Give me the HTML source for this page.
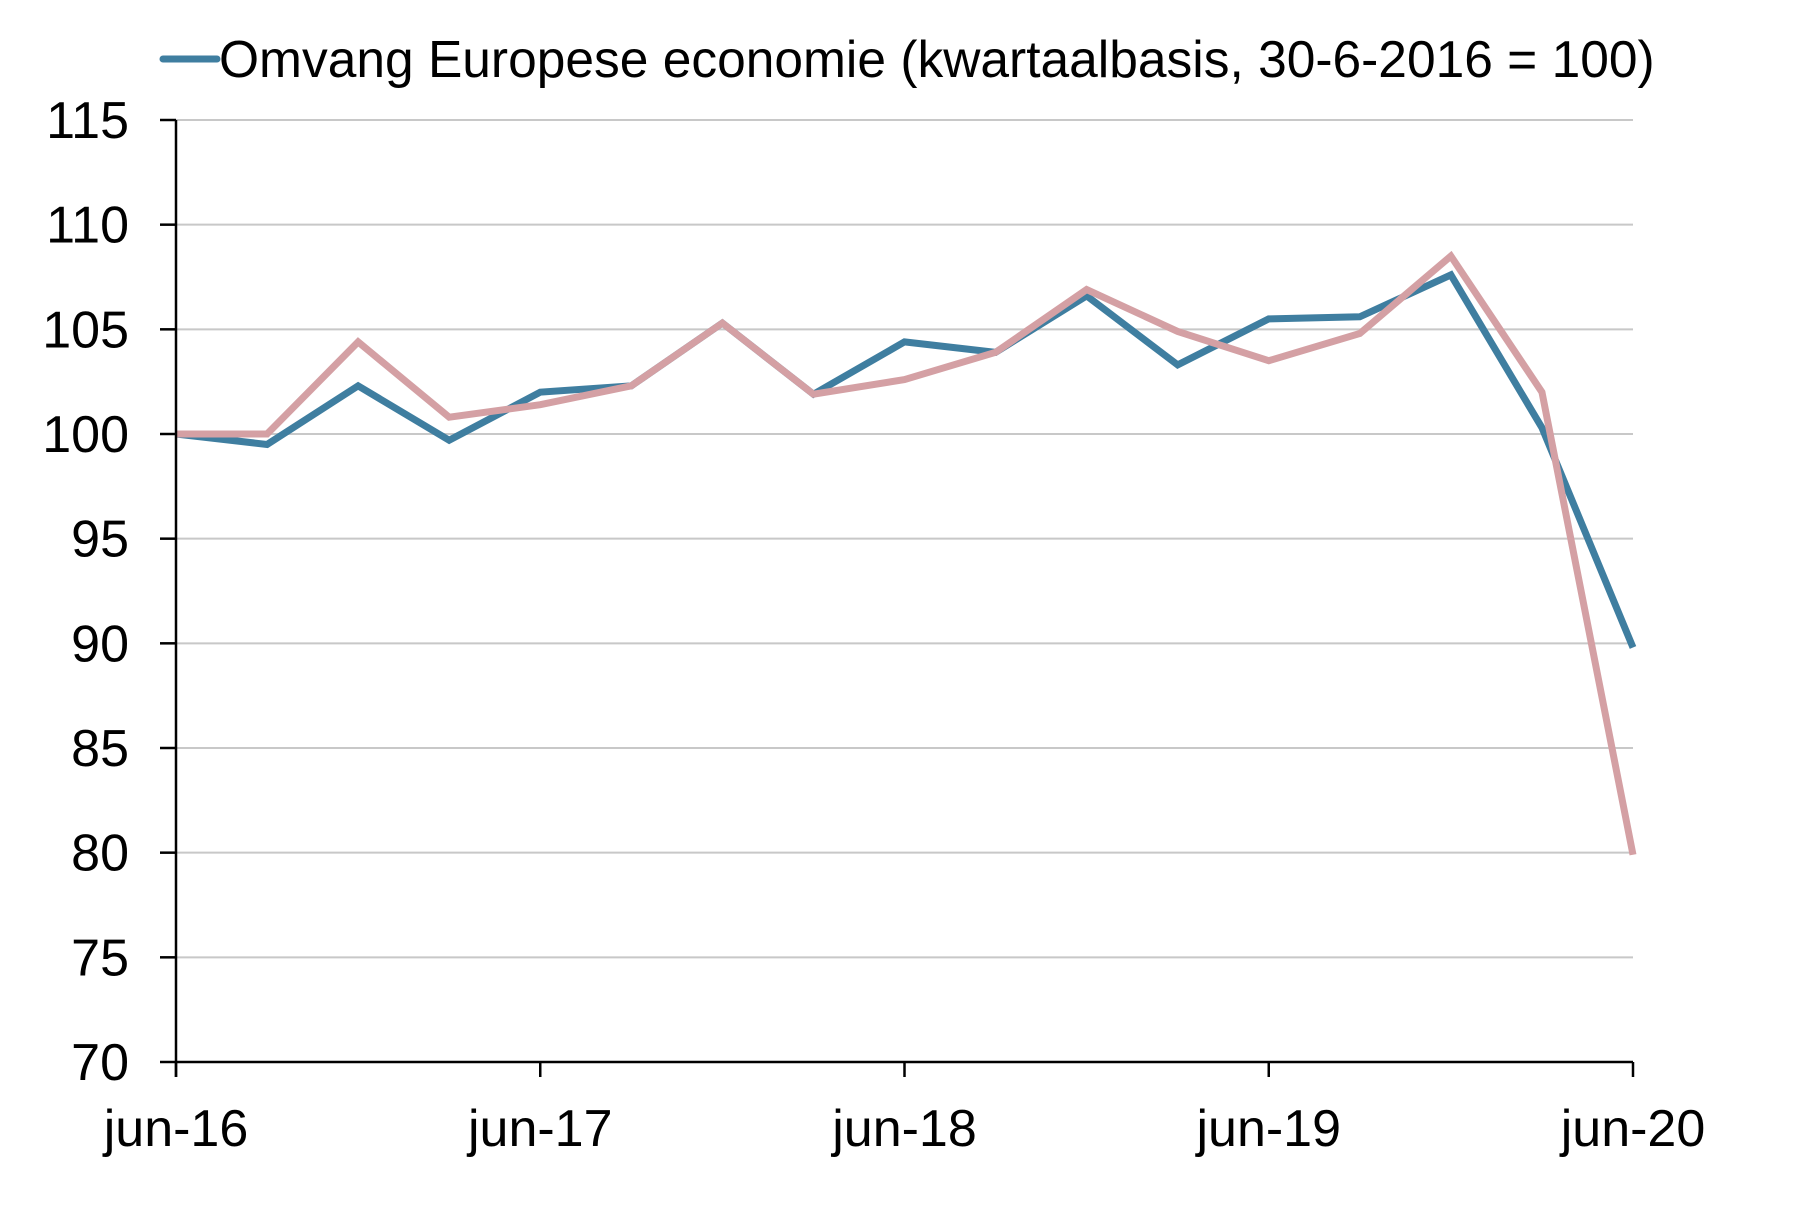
<!DOCTYPE html>
<html><head><meta charset="utf-8"><style>
html,body{margin:0;padding:0;background:#fff;width:1806px;height:1209px;overflow:hidden}
svg text{font-family:"Liberation Sans",Arial,sans-serif;fill:#000}
</style></head><body>
<svg id="chart" width="1806" height="1209" viewBox="0 0 1806 1209" xmlns="http://www.w3.org/2000/svg">
<g id="grid"></g>
<g id="series"></g>
<g id="axes"></g>
<g>
<line x1="163" y1="59" x2="217" y2="59" stroke="#3f7ea0" stroke-width="7" stroke-linecap="round"/>
<text x="219" y="77" font-size="51.5">Omvang Europese economie (kwartaalbasis, 30-6-2016 = 100)</text>
</g>
</svg>
<script>
const yTicks = [70,75,80,85,90,95,100,105,110,115];
const xTickLabels = ["jun-16","jun-17","jun-18","jun-19","jun-20"];
const blueValues = [100,99.5,102.3,99.7,102.0,102.3,105.3,101.9,104.4,103.9,106.6,103.3,105.5,105.6,107.6,100.3,89.8];
const pinkValues = [100,100,104.4,100.8,101.4,102.3,105.3,101.9,102.6,103.9,106.9,104.9,103.5,104.8,108.5,102.0,79.9];

const X0=176,X1=1633,Y0=1062,Y1=120;
const yMin=70,yMax=115,nPts=blueValues.length;
function xs(i){return X0+(X1-X0)*i/(nPts-1);}
function ys(v){return Y0-(v-yMin)/(yMax-yMin)*(Y0-Y1);}
const NS="http://www.w3.org/2000/svg";
function mk(tag,attrs,parent){const e=document.createElementNS(NS,tag);for(const k in attrs)e.setAttribute(k,attrs[k]);parent.appendChild(e);return e;}
const grid=document.getElementById('grid'),axes=document.getElementById('axes'),ser=document.getElementById('series');
yTicks.forEach(v=>{
  const y=ys(v);
  if(v>yMin){const g=mk('line',{x1:X0,x2:X1,y1:y,y2:y,stroke:'#c8c8c8','stroke-width':2},grid);
  
  }
  const t=mk('line',{x1:160,x2:X0,y1:y,y2:y,stroke:'#000','stroke-width':2.5},axes);
  
  
  const l=mk('text',{x:129,y:y+18,'font-size':52,'text-anchor':'end'},axes);
  l.textContent=v;
  
  
});
const ya=mk('line',{x1:X0,x2:X0,y1:Y1,y2:Y0+15,stroke:'#000','stroke-width':2.5},axes);


const xa=mk('line',{x1:X0,x2:X1,y1:Y0,y2:Y0,stroke:'#000','stroke-width':2.5},axes);


xTickLabels.forEach((s,i)=>{
  const x=X0+(X1-X0)*i/(xTickLabels.length-1);
  const t=mk('line',{x1:x,x2:x,y1:Y0,y2:Y0+15,stroke:'#000','stroke-width':2.5},axes);
  
  
  const l=mk('text',{x:x,y:1146,'font-size':52,'text-anchor':'middle'},axes);
  l.textContent=s;
  
  
});
function line(vals,color,name){
  const p=mk('polyline',{points:vals.map((v,i)=>xs(i)+','+ys(v)).join(' '),fill:'none',stroke:color,'stroke-width':7,'stroke-linejoin':'miter'},ser);
  
  
}
line(blueValues,'#3f7ea0','line-europese-economie');
line(pinkValues,'#d4a0a4','line-second-series');
</script>
</body></html>
